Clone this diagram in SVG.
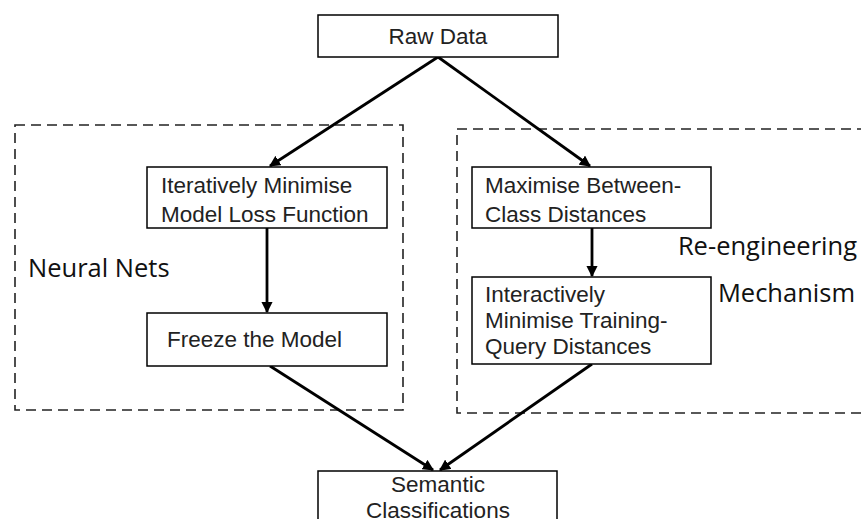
<svg xmlns="http://www.w3.org/2000/svg" width="861" height="519" viewBox="0 0 861 519">
<style>
.box{fill:#fff;stroke:#000;stroke-width:1.5}
.grp{fill:none;stroke:#222;stroke-width:1.6;stroke-dasharray:10 6}
.t{font-family:"Liberation Sans",Arial,sans-serif;font-size:22.5px;fill:#222}
.lab{font-family:"Open Sans","Liberation Sans",sans-serif;font-size:25.5px;fill:#111}
.c{fill:none;stroke:#000;stroke-width:2.8;marker-end:url(#ah)}
</style>
<defs>
<marker id="ah" viewBox="0 0 10 10" refX="9" refY="5" markerWidth="4" markerHeight="4" orient="auto" markerUnits="strokeWidth">
<path d="M0,0 L10,5 L0,10 z" fill="#000"/>
</marker>
</defs>
<g id="group-neural">
<rect class="grp" x="15" y="125" width="388" height="285"/>
<text class="lab" x="28" y="277">Neural Nets</text>
</g>
<g id="group-reeng">
<rect class="grp" x="457" y="129" width="420" height="284"/>
<text class="lab" x="857" y="255" text-anchor="end">Re-engineering</text>
<text class="lab" x="855" y="302" text-anchor="end">Mechanism</text>
</g>
<g id="connectors">
<line class="c" x1="438" y1="57" x2="270" y2="166"/>
<line class="c" x1="438" y1="57" x2="590" y2="166"/>
<line class="c" x1="267" y1="228" x2="267" y2="312"/>
<line class="c" x1="592" y1="228" x2="592" y2="276"/>
<line class="c" x1="270" y1="366" x2="433" y2="470"/>
<line class="c" x1="592" y1="364" x2="440" y2="470"/>
</g>
<g id="raw">
<rect class="box" x="318" y="15" width="240" height="42"/>
<text class="t" x="438" y="44" text-anchor="middle">Raw Data</text>
</g>
<g id="iter">
<rect class="box" x="147" y="167" width="240" height="61"/>
<text class="t" x="161" y="193">Iteratively Minimise</text>
<text class="t" x="161" y="222">Model Loss Function</text>
</g>
<g id="freeze">
<rect class="box" x="147" y="313" width="240" height="53"/>
<text class="t" x="167" y="347">Freeze the Model</text>
</g>
<g id="maxim">
<rect class="box" x="472" y="167" width="239" height="61"/>
<text class="t" x="485" y="193">Maximise Between-</text>
<text class="t" x="485" y="222">Class Distances</text>
</g>
<g id="inter">
<rect class="box" x="472" y="277" width="239" height="87"/>
<text class="t" x="485" y="302">Interactively</text>
<text class="t" x="485" y="328">Minimise Training-</text>
<text class="t" x="485" y="354">Query Distances</text>
</g>
<g id="semantic">
<rect class="box" x="318" y="471" width="239" height="60"/>
<text class="t" x="438" y="492" text-anchor="middle">Semantic</text>
<text class="t" x="438" y="518" text-anchor="middle">Classifications</text>
</g>
</svg>
